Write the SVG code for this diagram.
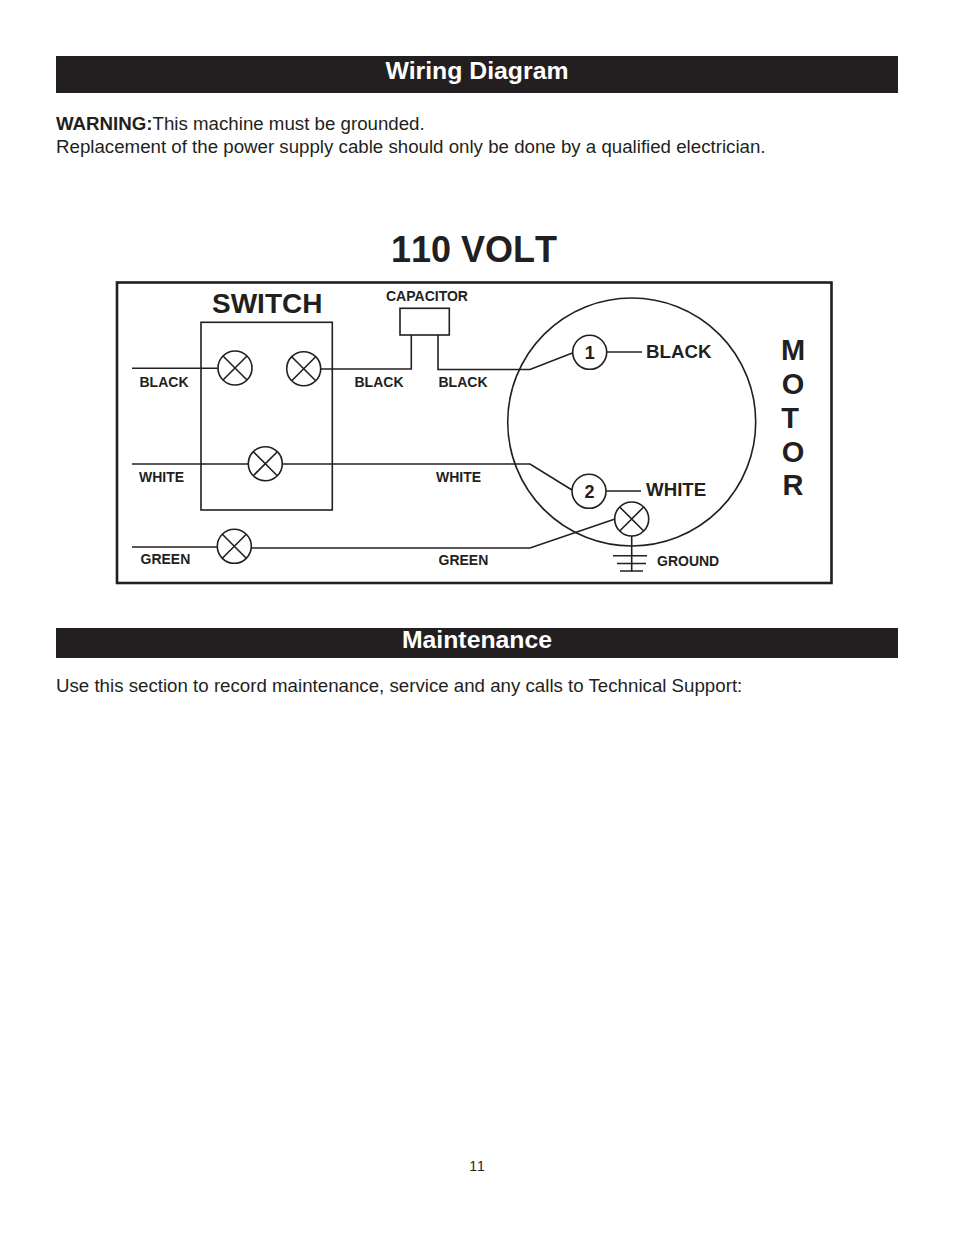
<svg xmlns="http://www.w3.org/2000/svg" width="954" height="1235" viewBox="0 0 954 1235">
<defs>
<style>
text{font-family:"Liberation Sans",Arial,sans-serif;fill:#231f20}
.b{font-weight:bold}
.nk{font-kerning:none}
.hd{font-weight:bold;font-size:24.8px;fill:#fff;text-anchor:middle}
.body{font-size:18.7px}
.lb{font-weight:bold;font-size:14px}
.lg{font-weight:bold;font-size:18.7px}
.mt{font-weight:bold;font-size:29px;text-anchor:middle}
.w{fill:none;stroke:#231f20;stroke-width:1.6}
.box{fill:#fff;stroke:#231f20;stroke-width:1.6}
</style>
<g id="xterm"><circle r="17" fill="#fff" stroke="#231f20" stroke-width="1.6"/><path d="M-12-12L12 12M-12 12L12-12" fill="none" stroke="#231f20" stroke-width="1.6"/></g>
</defs>
<rect width="954" height="1235" fill="#fff"/>
<g id="header-wiring"><rect x="56" y="56" width="842" height="37" fill="#231f20"/><text class="hd" x="477" y="79">Wiring Diagram</text></g>
<text class="body" x="56" y="130"><tspan class="b">WARNING:</tspan>This machine must be grounded.</text>
<text class="body" x="56" y="153">Replacement of the power supply cable should only be done by a qualified electrician.</text>
<text class="b nk" x="391" y="262" font-size="36">110 VOLT</text>
<rect id="frame" x="117" y="282.5" width="714.5" height="300.5" fill="#fff" stroke="#231f20" stroke-width="2.6"/>
<g id="switch"><rect class="box" x="201" y="322.3" width="131.3" height="187.7"/><text x="212" y="313" class="b" font-size="28">SWITCH</text></g>
<g id="capacitor"><rect class="box" x="400" y="308.3" width="49.3" height="26.7"/><text class="b" x="386" y="301" font-size="14">CAPACITOR</text></g>
<g id="motor"><circle class="w" cx="631.7" cy="422" r="124"/>
<text class="mt" x="793" y="360">M</text><text class="mt" x="793" y="394">O</text><text class="mt" x="790" y="428">T</text><text class="mt" x="793" y="462">O</text><text class="mt" x="793" y="495">R</text></g>
<g id="connectors">
<path class="w" d="M132 368.3H218"/>
<path class="w" d="M321 369H411.3V335"/>
<path class="w" d="M438 335V369.5H530L573 352.7"/>
<path class="w" d="M132 464H248"/>
<path class="w" d="M282 464H530L572 490"/>
<path class="w" d="M132 547H217"/>
<path class="w" d="M251 548H530L615 519"/>
<path class="w" d="M607 352H642"/>
<path class="w" d="M606 491H641"/>
<path class="w" d="M631.7 536V571.5"/>
</g>
<g id="sw-black-in"><use href="#xterm" x="235" y="368"/></g>
<g id="sw-black-out"><use href="#xterm" x="303.7" y="368.7"/></g>
<g id="sw-white"><use href="#xterm" x="265.3" y="463.7"/></g>
<g id="green-term"><use href="#xterm" x="234.3" y="546.3"/></g>
<g id="ground-term"><use href="#xterm" x="631.7" y="519"/></g>
<g id="terminal-1"><circle class="box" cx="589.7" cy="352.3" r="17"/><text class="b" x="589.7" y="359" font-size="18" text-anchor="middle">1</text></g>
<g id="terminal-2"><circle class="box" cx="589" cy="491.3" r="17"/><text class="b" x="589.5" y="498" font-size="18" text-anchor="middle">2</text></g>
<g id="ground"><path class="w" d="M613 555.7H647M617 563.5H646M620 571H643"/><text class="lb" x="657" y="566">GROUND</text></g>
<g id="labels">
<text class="lb" x="139.5" y="387">BLACK</text>
<text class="lb" x="354.5" y="387">BLACK</text>
<text class="lb" x="438.5" y="387">BLACK</text>
<text class="lb" x="139" y="482">WHITE</text>
<text class="lb" x="436" y="482">WHITE</text>
<text class="lb" x="140.5" y="564">GREEN</text>
<text class="lb" x="438.5" y="565">GREEN</text>
<text class="lg" x="646" y="358">BLACK</text>
<text class="lg" x="646" y="496">WHITE</text>
</g>
<g id="header-maint"><rect x="56" y="628" width="842" height="30" fill="#231f20"/><text class="hd" x="477" y="648">Maintenance</text></g>
<text class="body" x="56" y="692">Use this section to record maintenance, service and any calls to Technical Support:</text>
<text class="nk" x="477" y="1171" font-size="14" text-anchor="middle">11</text>
</svg>
